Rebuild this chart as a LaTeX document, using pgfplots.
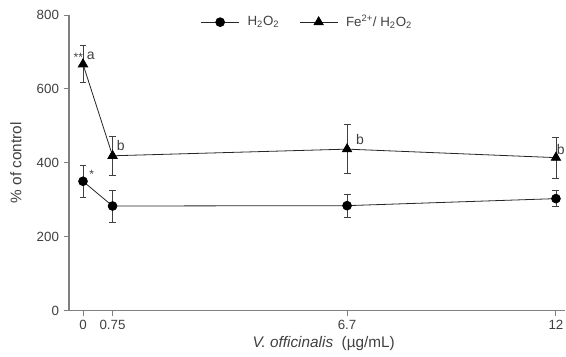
\documentclass[border=0pt]{standalone}
\usepackage{pgfplots}
\pgfplotsset{compat=1.18}
\usepackage{fontspec}
\setmainfont{Liberation Sans}
\definecolor{axgray}{HTML}{808080}
\definecolor{txtgray}{HTML}{404040}
\begin{document}
\begin{tikzpicture}
\path[use as bounding box] (0pt,0pt) rectangle (424.5pt,267pt);
\begin{axis}[
  at={(62.25pt,34.1pt)}, anchor=origin,
  scale only axis, width=372pt, height=221.6pt,
  xmin=-0.355, xmax=12.23, ymin=0, ymax=800,
  axis x line*=bottom, axis y line*=left,
  axis line style={axgray, line width=0.9pt, -},
  xtick={0,0.75,6.7,12}, xticklabels={0,0.75,6.7,12},
  ytick={0,200,400,600,800},
  tick style={axgray, line width=0.7pt},
  tick align=outside, major tick length=4pt,
  tick label style={font=\fontsize{10}{11}\selectfont, text=txtgray},
  /pgf/number format/assume math mode=true,
  xlabel={\textit{V. officinalis}\ \ (µg/mL)},
  ylabel={\% of control},
  label style={font=\fontsize{11.5}{13}\selectfont, text=txtgray},
  xlabel style={yshift=2pt, xshift=5pt},
  ylabel style={yshift=4.5pt},
  legend style={draw=none, fill=none, at={(0.257,0.976)}, anchor=west,
    font=\fontsize{10}{11}\selectfont, text=txtgray, legend columns=2,
    /tikz/every odd column/.append style={column sep=4pt},
    /tikz/every even column/.append style={column sep=13pt}},
  legend image code/.code={\draw[#1] (0pt,0pt) -- (28.5pt,0pt); \path[#1] plot coordinates {(14.25pt,0pt)};},
  clip=false,
]
\addplot[black!85, line width=0.6pt, mark=*, mark size=3.3pt, mark options={fill=black, draw=black},
  error bars/.cd, y dir=both, y explicit, error bar style={black!75, line width=0.6pt}, error mark options={rotate=90, mark size=2.6pt, black!75}]
  coordinates {(0,350) +- (0,44) (0.75,283) +- (0,43) (6.7,284) +- (0,31) (12,303) +- (0,22)};
\addlegendentry{H\textsubscript{2}O\textsubscript{2}}
\addplot[black!85, line width=0.6pt, mark=triangle*, mark size=4pt, mark options={fill=black, draw=black},
  error bars/.cd, y dir=both, y explicit, error bar style={black!75, line width=0.6pt}, error mark options={rotate=90, mark size=2.6pt, black!75}]
  coordinates {(0,667) +- (0,50) (0.75,419) +- (0,53) (6.7,437) +- (0,66) (12,414) +- (0,55)};
\addlegendentry{Fe\textsuperscript{2+}/ H\textsubscript{2}O\textsubscript{2}}
\node[font=\fontsize{9}{10}\selectfont, text=txtgray] at (axis cs:-0.12,685) {**};
\node[font=\fontsize{10.5}{11}\selectfont, text=txtgray] at (axis cs:0.2,690) {a};
\node[font=\fontsize{10.5}{11}\selectfont, text=txtgray] at (axis cs:0.96,447) {b};
\node[font=\fontsize{10.5}{11}\selectfont, text=txtgray] at (axis cs:7.03,462) {b};
\node[font=\fontsize{10.5}{11}\selectfont, text=txtgray] at (axis cs:12.12,435) {b};
\node[font=\fontsize{9}{10}\selectfont, text=txtgray] at (axis cs:0.22,370) {*};
\end{axis}
\end{tikzpicture}
\end{document}
